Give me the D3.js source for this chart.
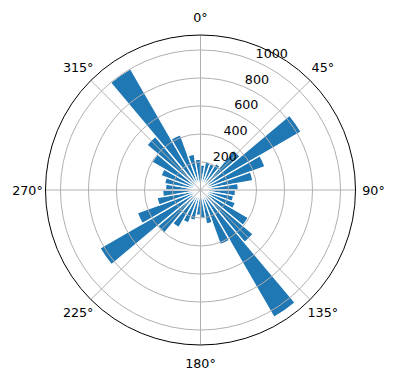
<!DOCTYPE html>
<html>
<head>
<meta charset="utf-8">
<script src="https://cdn.jsdelivr.net/npm/d3@7"></script>
<style>
  body { margin: 0; background: #fff; }
  text { font-family: "DejaVu Sans", sans-serif; }
</style>
</head>
<body>
<svg id="chart" width="396" height="380"></svg>
<script>
// bin centres in degrees (clockwise from north) and bar heights
const binCenters = [5, 15, 25, 35, 45, 55, 65, 75, 85,
    95, 105, 115, 125, 135, 145, 155, 165, 175,
    185, 195, 205, 215, 225, 235, 245, 255, 265,
    275, 285, 295, 305, 315, 325, 335, 345, 355];
const counts = [180, 205, 200, 220, 370, 830, 490, 380, 270,
    250, 240, 265, 395, 490, 1050, 415, 245, 200,
    180, 220, 250, 310, 400, 830, 480, 315, 270,
    250, 260, 300, 400, 500, 1000, 420, 260, 220];
const binWidth = 10;

const rTicks = [200, 400, 600, 800, 1000];
const angleTicks = [0, 45, 90, 135, 180, 225, 270, 315];
const angleLabels = ["0°", "45°", "90°", "135°", "180°", "225°", "270°", "315°"];
const rMax = 1107;

const svg = d3.select("#chart");
const cx = 200.5, cy = 190, outerR = 155;

const r = d3.scaleLinear().domain([0, rMax]).range([0, outerR]);
const a = d3.scaleLinear().domain([0, 360]).range([0, 2 * Math.PI]);

const g = svg.append("g").attr("transform", `translate(${cx},${cy})`);

// bars
const arc = d3.arc()
    .innerRadius(0)
    .outerRadius(d => r(d.value))
    .startAngle(d => a(d.angle - binWidth / 2))
    .endAngle(d => a(d.angle + binWidth / 2));

const bars = binCenters.map((c, i) => ({ angle: c, value: counts[i] }));

g.selectAll("path.bar")
    .data(bars)
    .join("path")
    .attr("class", "bar")
    .attr("d", arc)
    .attr("fill", "#1f77b4")
    .attr("stroke", "#fff")
    .attr("stroke-width", 1.3);

// grid circles
g.selectAll("circle.grid")
    .data(rTicks)
    .join("circle")
    .attr("class", "grid")
    .attr("r", d => r(d))
    .attr("fill", "none")
    .attr("stroke", "#b0b0b0")
    .attr("stroke-width", 1);

// spokes
g.selectAll("line.spoke")
    .data(angleTicks)
    .join("line")
    .attr("class", "spoke")
    .attr("x1", 0).attr("y1", 0)
    .attr("x2", d => outerR * Math.sin(a(d)))
    .attr("y2", d => -outerR * Math.cos(a(d)))
    .attr("stroke", "#b0b0b0")
    .attr("stroke-width", 1);

// outer frame
g.append("circle")
    .attr("r", outerR)
    .attr("fill", "none")
    .attr("stroke", "#000")
    .attr("stroke-width", 1);

// angle labels
g.selectAll("text.theta")
    .data(angleTicks)
    .join("text")
    .attr("class", "theta")
    .attr("x", d => (outerR + 18) * Math.sin(a(d)))
    .attr("y", d => -(outerR + 18) * Math.cos(a(d)))
    .attr("text-anchor", "middle")
    .attr("dominant-baseline", "central")
    .attr("font-size", "12.7px")
    .text((d, i) => angleLabels[i]);

// radial labels at 22.5 deg
const labAng = a(22.5);
g.selectAll("text.rlab")
    .data(rTicks)
    .join("text")
    .attr("class", "rlab")
    .attr("x", d => r(d) * Math.sin(labAng) + 1.5)
    .attr("y", d => -r(d) * Math.cos(labAng) - 3)
    .attr("font-size", "12.7px")
    .text(d => d);
</script>
</body>
</html>
